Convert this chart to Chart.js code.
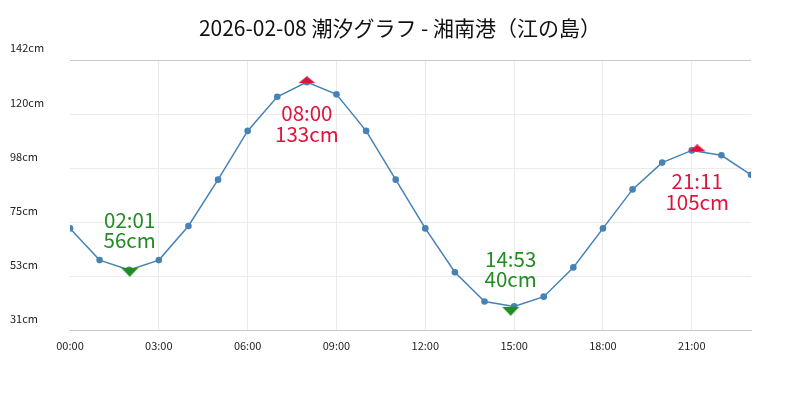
<!DOCTYPE html>
<html>
<head>
<meta charset="utf-8">
<script src="https://cdn.jsdelivr.net/npm/chart.js@4.4.1/dist/chart.umd.min.js"></script>
<style>
    body { margin: 0; background: #fff; }
    #wrap { width: 800px; height: 400px; }
</style>
</head>
<body>
<div id="wrap"><canvas id="tideChart" width="800" height="400"></canvas></div>
<script>
const chartTitle = '2026-02-08 潮汐グラフ - 湘南港（江の島）'

// hourly tide level (cm)
const hours = [0, 1, 2, 3, 4, 5, 6, 7, 8, 9, 10, 11, 12, 13, 14, 15, 16, 17, 18, 19, 20, 21, 22, 23]
const levels = [73, 60, 56, 60, 74, 93, 113, 127, 133, 128, 113, 93, 73, 55, 43, 41, 45, 57, 73, 89, 100, 105, 103, 95]

// high / low tide
const extremeTimes = ['02:01', '08:00', '14:53', '21:11']
const extremeLevels = [56, 133, 40, 105]
const extremeTypes = ['low', 'high', 'low', 'high']

const xTicks = [0, 3, 6, 9, 12, 15, 18, 21]
const yTicks = [31, 53.2, 75.4, 97.6, 119.8, 142]

const FONT = "'Noto Sans CJK JP', 'Noto Sans', sans-serif"
const HIGH_COLOR = '#dc143c'
const LOW_COLOR = '#228b22'

function timeToHour(t) {
    const parts = t.split(':')
    return parseInt(parts[0]) + parseInt(parts[1]) / 60
}

function makeTriangle(color, up) {
    const c = document.createElement('canvas')
    c.width = 18
    c.height = up ? 12 : 18
    const g = c.getContext('2d')
    g.fillStyle = color
    g.beginPath()
    if (up) {
        g.moveTo(9, 0)
        g.lineTo(17.5, 7)
        g.lineTo(0.5, 7)
    } else {
        g.moveTo(0.5, 7)
        g.lineTo(17.5, 7)
        g.lineTo(9, 16)
    }
    g.closePath()
    g.fill()
    return c
}

const upTri = makeTriangle(HIGH_COLOR, true)
const downTri = makeTriangle(LOW_COLOR, false)

const extremeLabels = {
    id: 'extremeLabels',
    afterDatasetsDraw(chart) {
        const ctx = chart.ctx
        const xs = chart.scales.x
        const ys = chart.scales.y
        ctx.save()
        ctx.font = '20.5px ' + FONT
        ctx.textAlign = 'center'
        ctx.textBaseline = 'alphabetic'
        for (let i = 0; i < extremeTimes.length; i++) {
            const px = xs.getPixelForValue(timeToHour(extremeTimes[i]))
            const py = ys.getPixelForValue(extremeLevels[i])
            const line1 = extremeTimes[i]
            const line2 = extremeLevels[i] + 'cm'
            if (extremeTypes[i] === 'high') {
                ctx.fillStyle = HIGH_COLOR
                ctx.fillText(line1, px, py + 38.5)
                ctx.fillText(line2, px, py + 59.5)
            } else {
                ctx.fillStyle = LOW_COLOR
                ctx.fillText(line1, px, py - 42)
                ctx.fillText(line2, px, py - 22)
            }
        }
        ctx.restore()
    }
}

const bgPlugin = {
    id: 'bg',
    beforeDraw(chart) {
        const ctx = chart.ctx
        ctx.save()
        ctx.fillStyle = '#fff'
        ctx.fillRect(0, 0, chart.width, chart.height)
        ctx.restore()
    }
}

const tideData = hours.map((h, i) => ({ x: h, y: levels[i] }))
const extremeData = extremeTimes.map((t, i) => ({ x: timeToHour(t), y: extremeLevels[i] }))

new Chart(document.getElementById('tideChart'), {
    type: 'line',
    data: {
        datasets: [{
            label: '潮位',
            data: tideData,
            borderColor: '#4682b4',
            backgroundColor: '#4682b4',
            borderWidth: 1.5,
            pointRadius: 3.3,
            pointBorderWidth: 0,
            tension: 0,
            order: 2
        }, {
            label: '満干潮',
            type: 'scatter',
            data: extremeData,
            pointStyle: extremeTypes.map(t => t === 'high' ? upTri : downTri),
            order: 1
        }]
    },
    options: {
        responsive: false,
        devicePixelRatio: 1,
        animation: false,
        layout: { padding: { left: 10, right: 10, top: 0, bottom: 40 } },
        plugins: {
            legend: { display: false },
            tooltip: { enabled: false },
            title: {
                display: true,
                text: chartTitle,
                color: '#111',
                font: { family: FONT, size: 21, weight: 'normal' },
                padding: { top: 15, bottom: 20 }
            }
        },
        scales: {
            x: {
                type: 'linear',
                min: 0,
                max: 23,
                afterBuildTicks: scale => { scale.ticks = xTicks.map(v => ({ value: v })) },
                ticks: {
                    color: '#222',
                    padding: 8,
                    font: { family: FONT, size: 11 },
                    callback: v => String(v).padStart(2, '0') + ':00'
                },
                grid: {
                    drawTicks: false,
                    color: ctx => ctx.index === 0 ? 'rgba(0,0,0,0)' : '#ebebeb'
                },
                border: { color: '#c8c8c8' }
            },
            y: {
                min: 31,
                max: 142,
                afterBuildTicks: scale => { scale.ticks = yTicks.map(v => ({ value: v })) },
                afterFit: scale => { scale.width = 60 },
                ticks: {
                    color: '#222',
                    crossAlign: 'far',
                    labelOffset: -12,
                    font: { family: FONT, size: 11 },
                    callback: v => Math.round(v) + 'cm'
                },
                grid: {
                    drawTicks: false,
                    color: ctx => ctx.index === yTicks.length - 1 ? '#c8c8c8' : '#ebebeb'
                },
                border: { display: false }
            },
            // empty right-hand spacer so the plot ends where the reference does
            yRight: {
                position: 'right',
                min: 31,
                max: 142,
                afterFit: scale => { scale.width = 39 },
                ticks: { display: false },
                grid: { display: false },
                border: { display: false }
            }
        }
    },
    plugins: [bgPlugin, extremeLabels]
});
</script>
</body>
</html>
